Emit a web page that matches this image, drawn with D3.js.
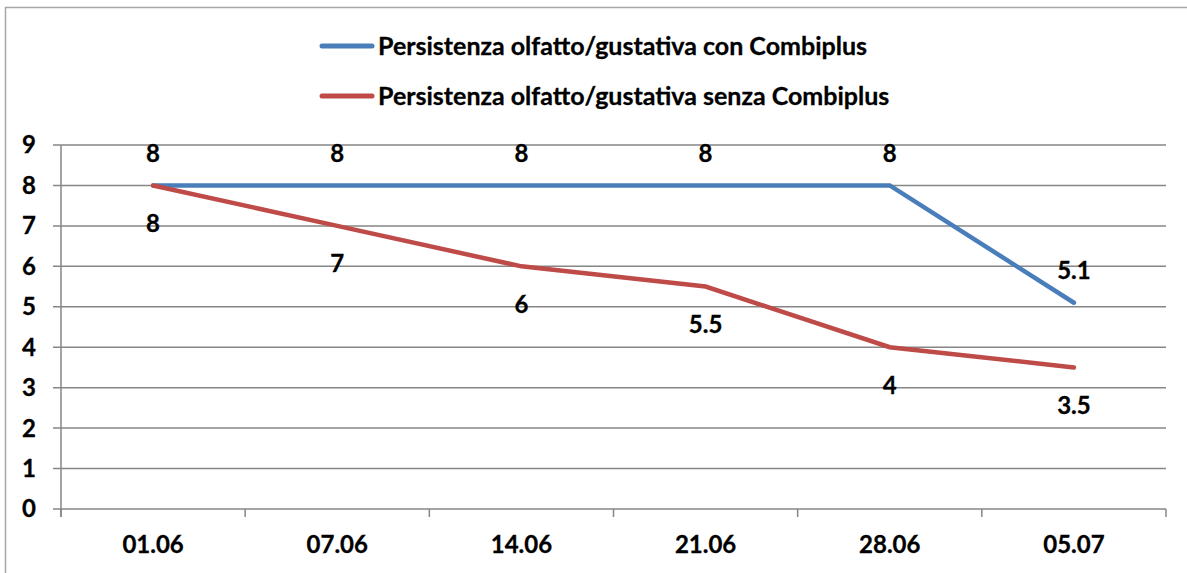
<!doctype html>
<html lang="it">
  <head>
    <meta charset="utf-8">
    <script src="https://cdn.jsdelivr.net/npm/d3@7"></script>
    <style>
      body { margin:0; background:#fff; font-family: Lato, "Noto Sans", sans-serif; }
      svg { display:block; }
      .lbl { font-weight:700; font-size:24px; fill:#000; stroke:#000; stroke-width:0.3px; }
      .leg { font-size:25px; }
    </style>
  </head>
  <body>
    <script>
      // chart data
      const dates = ["01.06", "07.06", "14.06", "21.06", "28.06", "05.07"];
      const conCombiplus = [8, 8, 8, 8, 8, 5.1];
      const senzaCombiplus = [8, 7, 6, 5.5, 4, 3.5];
      const seriesNames = ["Persistenza olfatto/gustativa con Combiplus",
                           "Persistenza olfatto/gustativa senza Combiplus"];
      const yTicks = [0, 1, 2, 3, 4, 5, 6, 7, 8, 9];

      let W = 1187, H = 573;
      let margin = {top:145, left:61, right:21, bottom:64};
      let w = W - margin.left - margin.right;
      let h = H - margin.top - margin.bottom;
      const blue = "#4a7ebb", red = "#be4b48", grey = "#868686";

      let svg = d3.select("body").append("svg")
        .attr("width", W)
        .attr("height", H);

      // outer frame (right/bottom run off the picture)
      svg.append("rect")
        .attr("x", 5.5).attr("y", 7.5)
        .attr("width", W + 20).attr("height", H + 20)
        .attr("fill", "none").attr("stroke", "#a6a6a6").attr("stroke-width", 1.5);

      let x = d3.scaleBand().domain(dates).range([0, w]);
      let y = d3.scaleLinear().domain([0, 9]).range([h, 0]);

      let g = svg.append("g")
        .attr("transform", "translate(" + margin.left + "," + margin.top + ")");

      // gridlines + y ticks
      g.selectAll(".grid").data(yTicks).enter().append("line")
        .attr("x1", -8).attr("x2", w)
        .attr("y1", d => y(d)).attr("y2", d => y(d))
        .attr("stroke", grey).attr("stroke-width", 1.5);

      g.selectAll(".ylab").data(yTicks).enter().append("text")
        .attr("class", "lbl")
        .attr("x", -25).attr("y", d => y(d)).attr("dy", "0.35em")
        .attr("text-anchor", "end")
        .text(d => d);

      // y axis line
      g.append("line")
        .attr("x1", 0).attr("x2", 0).attr("y1", 0).attr("y2", h + 8)
        .attr("stroke", grey).attr("stroke-width", 1.5);

      // x ticks between categories
      let xb = dates.map(d => x(d)).concat([w]);
      g.selectAll(".xt").data(xb).enter().append("line")
        .attr("x1", d => d).attr("x2", d => d)
        .attr("y1", h).attr("y2", h + 8)
        .attr("stroke", grey).attr("stroke-width", 1.5);

      g.selectAll(".xlab").data(dates).enter().append("text")
        .attr("class", "lbl")
        .attr("x", d => x(d) + x.bandwidth() / 2)
        .attr("y", h + 36).attr("dy", "0.35em")
        .attr("text-anchor", "middle")
        .text(d => d);

      let line = d3.line()
        .x((d, i) => x(dates[i]) + x.bandwidth() / 2)
        .y(d => y(d));

      g.append("path").datum(conCombiplus)
        .attr("d", line).attr("fill", "none")
        .attr("stroke", blue).attr("stroke-width", 4.5).attr("stroke-linecap", "round");

      g.append("path").datum(senzaCombiplus)
        .attr("d", line).attr("fill", "none")
        .attr("stroke", red).attr("stroke-width", 4.5).attr("stroke-linecap", "round");

      // data labels: blue above, red below
      g.selectAll(".lb").data(conCombiplus).enter().append("text")
        .attr("class", "lbl")
        .attr("x", (d, i) => x(dates[i]) + x.bandwidth() / 2)
        .attr("y", d => y(d) - 32).attr("dy", "0.35em")
        .attr("text-anchor", "middle")
        .text(d => d);

      g.selectAll(".lr").data(senzaCombiplus).enter().append("text")
        .attr("class", "lbl")
        .attr("x", (d, i) => x(dates[i]) + x.bandwidth() / 2)
        .attr("y", d => y(d) + 38).attr("dy", "0.35em")
        .attr("text-anchor", "middle")
        .text(d => d);

      // legend
      let legend = svg.append("g").attr("transform", "translate(320,46)");
      [blue, red].forEach((c, i) => {
        legend.append("line")
          .attr("x1", 2).attr("x2", 52)
          .attr("y1", i * 50).attr("y2", i * 50)
          .attr("stroke", c).attr("stroke-width", 5).attr("stroke-linecap", "round");
        legend.append("text")
          .attr("class", "lbl leg")
          .attr("x", 58).attr("y", i * 50).attr("dy", "0.35em")
          .text(seriesNames[i]);
      });
    </script>
  </body>
</html>
